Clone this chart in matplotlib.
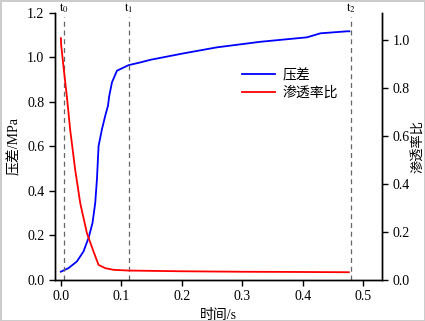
import matplotlib
matplotlib.use("Agg")
import matplotlib.pyplot as plt

plt.rcParams['font.family'] = ['Liberation Serif', 'Noto Sans CJK SC']
plt.rcParams['mathtext.fontset'] = 'stix'

# pressure difference (MPa) vs time (s)
time_p = [0.0, 0.0126, 0.0265, 0.0374, 0.0457, 0.0523, 0.0568, 0.0596, 0.0623, 0.0679,
          0.0733, 0.0778, 0.080, 0.0844, 0.0927, 0.112, 0.131, 0.148, 0.203, 0.258,
          0.33, 0.407, 0.429, 0.473, 0.477]
pressure = [0.037, 0.053, 0.083, 0.128, 0.188, 0.256, 0.346, 0.451, 0.601, 0.677,
            0.737, 0.782, 0.827, 0.887, 0.94, 0.965, 0.977, 0.989, 1.018, 1.045,
            1.07, 1.09, 1.108, 1.117, 1.117]

# permeability ratio vs time (s)
time_k = [0.0, 0.0005, 0.0043, 0.0099, 0.0154, 0.0237, 0.032, 0.043, 0.054, 0.0623,
          0.0733, 0.087, 0.112, 0.2, 0.3, 0.4, 0.476]
perm = [1.007, 0.979, 0.889, 0.764, 0.625, 0.458, 0.32, 0.195, 0.118, 0.0625,
        0.049, 0.042, 0.039, 0.036, 0.034, 0.033, 0.032]

marker_times = [0.0055, 0.112, 0.48]
marker_labels = ['$\\mathrm{t_0}$', '$\\mathrm{t_1}$', '$\\mathrm{t_2}$']

fig = plt.figure(figsize=(4.25, 3.21), dpi=100, linewidth=1, edgecolor='#cccccc')
ax = fig.add_axes([0.129, 0.128, 0.770, 0.832])
ax2 = ax.twinx()

l1, = ax.plot(time_p, pressure, color='blue', lw=1.3, label='压差')
l2, = ax2.plot(time_k, perm, color='red', lw=1.3, label='渗透率比')

for t, lab in zip(marker_times, marker_labels):
    ax.axvline(t, ymax=0.985, color='#666666', lw=0.9, ls=(0, (4, 3)))
    ax.text(t, 1.222, lab, ha='center', va='center', fontsize=9, clip_on=False)

ax.set_xlim(-0.01, 0.531)
ax.set_ylim(0, 1.2)
ax2.set_ylim(0, 1.1125)
ax.set_xticks([0.0, 0.1, 0.2, 0.3, 0.4, 0.5])
ax.set_yticks([0.0, 0.2, 0.4, 0.6, 0.8, 1.0, 1.2])
ax2.set_yticks([0.0, 0.2, 0.4, 0.6, 0.8, 1.0])
ax.xaxis.set_major_formatter(plt.FormatStrFormatter('%.1f'))
ax.yaxis.set_major_formatter(plt.FormatStrFormatter('%.1f'))
ax2.yaxis.set_major_formatter(plt.FormatStrFormatter('%.1f'))

for a in (ax, ax2):
    a.spines['top'].set_visible(False)
    a.tick_params(labelsize=10, length=4, width=1, direction='out')
    for s in a.spines.values():
        s.set_linewidth(1)

ax.set_xlabel('时间/s', fontsize=10)
ax.set_ylabel('压差/MPa', fontsize=10)
ax2.set_ylabel('渗透率比', fontsize=9.5, labelpad=1)

ax.legend(handles=[l1, l2], loc='upper left', bbox_to_anchor=(0.534, 0.838),
          frameon=False, fontsize=10, handlelength=2.4, handletextpad=0.5,
          labelspacing=0.3)

fig.savefig('out.png', dpi=100)
